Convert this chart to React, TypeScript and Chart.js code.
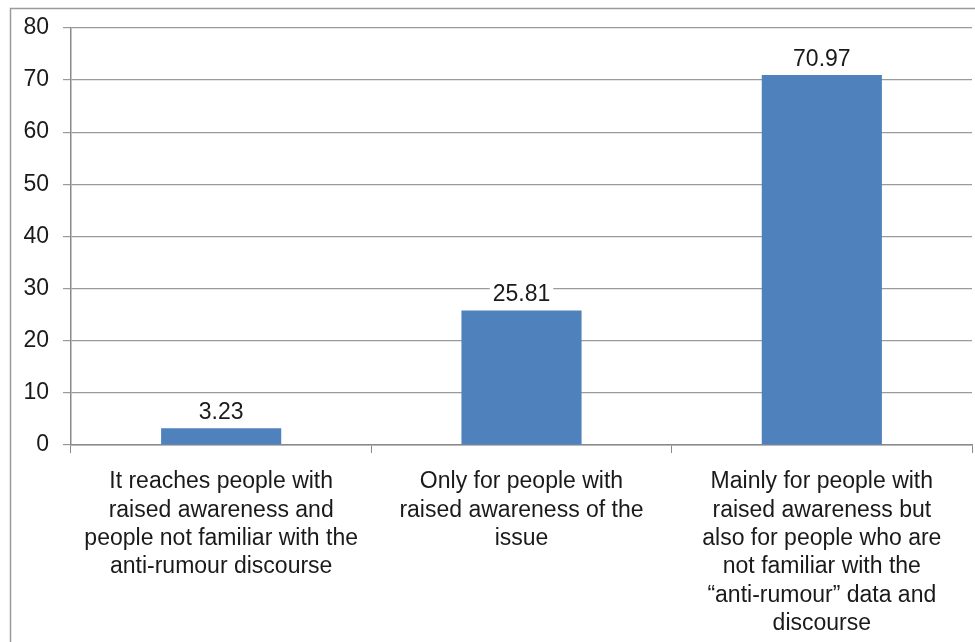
import React, { useEffect, useRef } from "react";
import { Chart, registerables } from "chart.js";

Chart.register(...registerables);

const categories: string[][] = [
  ["It reaches people with", "raised awareness and", "people not familiar with the", "anti-rumour discourse"],
  ["Only for people with", "raised awareness of the", "issue"],
  [
    "Mainly for people with",
    "raised awareness but",
    "also for people who are",
    "not familiar with the",
    "\u201Canti-rumour\u201D data and",
    "discourse",
  ],
];
const values: number[] = [3.23, 25.81, 70.97];
const valueLabels: string[] = ["3.23", "25.81", "70.97"];
const yMin = 0;
const yMax = 80;
const yStep = 10;

const FONT = "'Liberation Sans', Arial, sans-serif";

const framePlugin = {
  id: "frame",
  beforeDraw(chart: any) {
    const ctx = chart.ctx;
    ctx.save();
    ctx.fillStyle = "#ffffff";
    ctx.fillRect(0, 0, chart.width, chart.height);
    ctx.strokeStyle = "#9a9a9a";
    ctx.lineWidth = 1.5;
    ctx.strokeRect(10.5, 8.5, chart.width + 20, chart.height + 20);
    ctx.restore();
  },
};

const valueLabelPlugin = {
  id: "valueLabels",
  afterDatasetsDraw(chart: any) {
    const ctx = chart.ctx;
    const meta = chart.getDatasetMeta(0);
    ctx.save();
    ctx.font = `23px ${FONT}`;
    ctx.textAlign = "center";
    ctx.textBaseline = "alphabetic";
    meta.data.forEach((bar: any, i: number) => {
      const text = valueLabels[i];
      const w = ctx.measureText(text).width;
      const baseY = bar.y - 9;
      ctx.fillStyle = "#ffffff";
      ctx.fillRect(bar.x - w / 2 - 3, baseY - 18, w + 6, 20);
      ctx.fillStyle = "#1a1a1a";
      ctx.fillText(text, bar.x, baseY);
    });
    ctx.restore();
  },
};

export default function App() {
  const canvasRef = useRef<HTMLCanvasElement | null>(null);

  useEffect(() => {
    if (!canvasRef.current) return;
    const chart = new Chart(canvasRef.current, {
      type: "bar",
      data: {
        labels: categories,
        datasets: [
          {
            data: values,
            backgroundColor: "#4F81BD",
            borderWidth: 0,
            barPercentage: 0.4,
            categoryPercentage: 1,
          },
        ],
      },
      options: {
        responsive: false,
        animation: false,
        devicePixelRatio: 1,
        layout: { padding: { top: 18, left: 0, right: 3, bottom: 0 } },
        plugins: {
          legend: { display: false },
          tooltip: { enabled: false },
          title: { display: false },
        },
        scales: {
          x: {
            offset: true,
            grid: {
              display: true,
              drawOnChartArea: false,
              offset: true,
              tickLength: 8,
              color: "#8a8a8a",
            },
            border: { color: "#8a8a8a", width: 1.5 },
            ticks: {
              color: "#1a1a1a",
              font: { family: FONT, size: 23, lineHeight: 1.23 },
              padding: 15,
              maxRotation: 0,
              autoSkip: false,
            },
            afterFit(scale: any) {
              scale.height = 197;
            },
          },
          y: {
            min: yMin,
            max: yMax,
            ticks: {
              stepSize: yStep,
              color: "#1a1a1a",
              font: { family: FONT, size: 23 },
              padding: 14,
            },
            grid: { color: "#9a9a9a", tickLength: 8, lineWidth: 1.2 },
            border: { color: "#8a8a8a", width: 1.5 },
            afterFit(scale: any) {
              scale.width = 71;
            },
          },
        },
      },
      plugins: [framePlugin, valueLabelPlugin],
    });
    return () => chart.destroy();
  }, []);

  return (
    <div style={{ position: "absolute", left: 0, top: 0, width: 975, height: 642 }}>
      <canvas ref={canvasRef} width={975} height={642} style={{ display: "block" }} />
    </div>
  );
}
